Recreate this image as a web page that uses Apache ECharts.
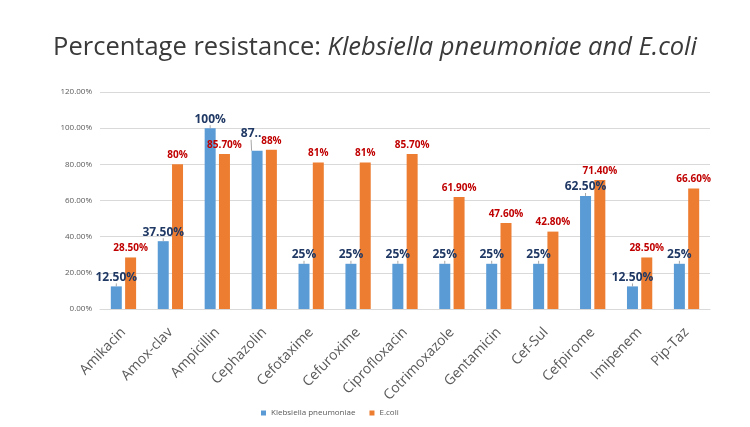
<!DOCTYPE html>
<html>
<head>
<meta charset="utf-8">
<script src="https://cdn.jsdelivr.net/npm/echarts@6/dist/echarts.min.js"></script>
<style>
  html, body { margin: 0; padding: 0; background: #fff; }
  #main { width: 750px; height: 427px; }
</style>
</head>
<body>
<div id="main"></div>
<script>
var categories = ['Amikacin', 'Amox-clav', 'Ampicillin', 'Cephazolin', 'Cefotaxime', 'Cefuroxime',
    'Ciprofloxacin', 'Cotrimoxazole', 'Gentamicin', 'Cef-Sul', 'Cefpirome', 'Imipenem', 'Pip-Taz'];
var klebsiella = [12.5, 37.5, 100, 87.5, 25, 25, 25, 25, 25, 25, 62.5, 12.5, 25];
var ecoli = [28.5, 80, 85.7, 88, 81, 81, 85.7, 61.9, 47.6, 42.8, 71.4, 28.5, 66.6];
var klebsiellaLabels = ['12.50%', '37.50%', '100%', '87..', '25%', '25%', '25%', '25%', '25%', '25%', '62.50%', '12.50%', '25%'];
var ecoliLabels = ['28.50%', '80%', '85.70%', '88%', '81%', '81%', '85.70%', '61.90%', '47.60%', '42.80%', '71.40%', '28.50%', '66.60%'];

var myChart = echarts.init(document.getElementById('main'));
var font = "'Open Sans', 'Liberation Sans', sans-serif";
option = {
    backgroundColor: '#fff',
    animation: false,
    title: {
        text: '{n|Percentage resistance: }{i|Klebsiella pneumoniae and E.coli}',
        left: 'center',
        top: 30,
        textStyle: {
            rich: {
                n: { fontSize: 25.5, fontFamily: font, color: '#3a3a3a', fontWeight: 'normal' },
                i: { fontSize: 25.5, fontFamily: font, color: '#3a3a3a', fontStyle: 'italic', fontWeight: 'normal' }
            }
        }
    },
    legend: {
        data: ['Klebsiella pneumoniae', 'E.coli'],
        left: 256,
        top: 404,
        itemWidth: 5,
        itemHeight: 5,
        itemGap: 14,
        icon: 'rect',
        textStyle: { fontSize: 8, color: '#595959', fontFamily: font }
    },
    grid: {
        left: 100,
        right: 40,
        top: 92,
        bottom: 118
    },
    xAxis: [
        {
            type: 'category',
            data: categories,
            axisTick: { show: false },
            axisLine: { lineStyle: { color: '#d9d9d9' } },
            axisLabel: {
                rotate: 46,
                interval: 0,
                margin: 21,
                fontSize: 14,
                color: '#595959',
                fontFamily: font
            }
        }
    ],
    yAxis: [
        {
            type: 'value',
            min: 0,
            max: 120,
            interval: 20,
            axisLine: { show: false },
            axisTick: { show: false },
            splitLine: { lineStyle: { color: '#d9d9d9' } },
            axisLabel: {
                fontSize: 8,
                color: '#595959',
                margin: 8,
                fontFamily: font,
                formatter: function (v) { return v.toFixed(2) + '%'; }
            }
        }
    ],
    series: [
        {
            name: 'Klebsiella pneumoniae',
            type: 'bar',
            data: klebsiella,
            barWidth: 11,
            barGap: '30%',
            itemStyle: { color: '#5b9bd5' },
            label: {
                show: true,
                position: 'top',
                distance: 3,
                fontSize: 12,
                fontWeight: 'bold',
                color: '#1f3864',
                fontFamily: font,
                formatter: function (p) { return klebsiellaLabels[p.dataIndex]; }
            },
            labelLine: { show: true, lineStyle: { color: '#a6a6a6', width: 1 } },
            labelLayout: function (p) {
                // Cephazolin label got pushed up-left in the original
                if (p.dataIndex === 3) {
                    return { dx: -6, dy: -8 };
                }
                return {};
            }
        },
        {
            name: 'E.coli',
            type: 'bar',
            data: ecoli,
            barWidth: 11,
            itemStyle: { color: '#ed7d31' },
            label: {
                show: true,
                position: 'top',
                distance: 4,
                fontSize: 10,
                fontWeight: 'bold',
                color: '#c00000',
                fontFamily: font,
                formatter: function (p) { return ecoliLabels[p.dataIndex]; }
            }
        }
    ]
};
myChart.setOption(option);
</script>
</body>
</html>
